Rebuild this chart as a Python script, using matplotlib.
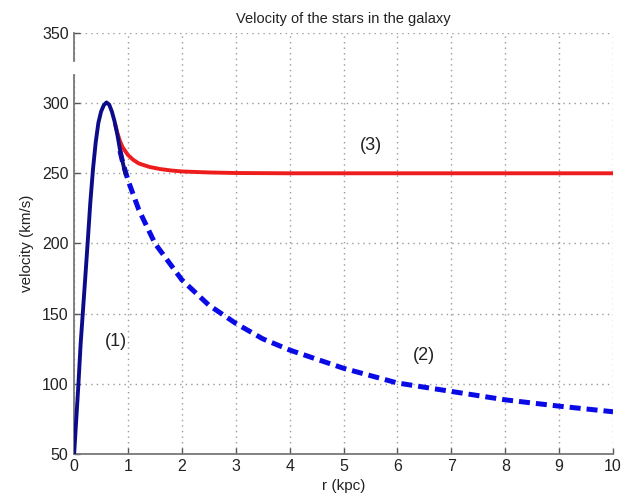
import matplotlib
matplotlib.use("Agg")
import matplotlib.pyplot as plt
import numpy as np

# ---- data ----
r_core = [0.0, 0.04, 0.08, 0.12, 0.16, 0.20, 0.25, 0.30, 0.35, 0.40, 0.45,
          0.50, 0.55, 0.60, 0.65, 0.70, 0.75, 0.80, 0.85, 0.90, 0.95]
v_core = [50, 75, 100, 128, 150, 172, 200, 229, 253, 272, 286,
          294, 298.5, 300.5, 299, 294, 287, 278, 267, 258, 250]

r_kepler = [0.85, 0.90, 1.0, 1.2, 1.5, 2.0, 2.5, 3.0, 3.5, 4.0, 5.0,
            6.0, 7.0, 8.0, 9.0, 10.0]
v_kepler = [266, 258, 245, 224, 200, 174, 156, 143, 132, 124, 111,
            100.5, 94.5, 88.5, 84, 80]

r_obs = [0.76, 0.80, 0.85, 0.90, 1.0, 1.1, 1.2, 1.4, 1.6, 1.8, 2.0, 2.5,
         3.0, 4.0, 5.0, 6.0, 7.0, 8.0, 9.0, 10.0]
v_obs = [285, 279, 273, 268.5, 263, 259.5, 257, 254.5, 253, 252, 251.3, 250.6,
         250.2, 250, 250, 250, 250, 250, 250, 250]

labels = ["(1)", "(2)", "(3)"]
label_r = [0.78, 6.5, 5.5]
label_v = [130, 120, 270]

x_ticks = list(range(0, 11))
y_ticks = [50, 100, 150, 200, 250, 300, 350]

title = "Velocity of the stars in the galaxy"
xlabel = "r (kpc)"
ylabel = "velocity (km/s)"

# ---- drawing ----
plt.rcParams['font.family'] = ['Liberation Sans', 'DejaVu Sans']
fig = plt.figure(figsize=(6.23, 5.04), dpi=100)
ax = fig.add_axes([0.119, 0.0995, 0.865, 0.835])

ax.plot(r_kepler, v_kepler, color='#0a0ae6', lw=3.6, dashes=(2.2, 1.2),
        solid_capstyle='butt', zorder=3)
ax.plot(r_obs, v_obs, color='#ee1c1c', lw=2.8, zorder=4,
        solid_capstyle='round')
ax.plot(r_core, v_core, color='#0c0c8a', lw=2.8, zorder=5,
        solid_joinstyle='round')

for t, x, y in zip(labels, label_r, label_v):
    ax.text(x, y, t, fontsize=13, ha='center', va='center', color='#222222')

ax.set_xlim(0, 10)
ax.set_ylim(50, 350)
ax.set_xticks(x_ticks)
ax.set_yticks(y_ticks)
ax.tick_params(direction='in', length=4, width=1, colors='#555555',
               labelcolor='#222222', labelsize=11.5, pad=4)
ax.grid(True, linestyle=(0, (1, 3)), color='#999999', linewidth=1.0)

for s in ['top', 'right']:
    ax.spines[s].set_visible(False)
for s in ['left', 'bottom']:
    ax.spines[s].set_color('#777777')
    ax.spines[s].set_linewidth(1.3)

# small break in the left axis line as in the reference
ax.plot([0, 0], [322, 328], color='white', lw=3, clip_on=False, zorder=10)

ax.set_title(title, fontsize=10.5, pad=7, color='#222222')
ax.set_xlabel(xlabel, fontsize=11, labelpad=3, color='#222222')
ax.set_ylabel(ylabel, fontsize=11, labelpad=6, color='#222222')

fig.savefig("out.png", dpi=100)
